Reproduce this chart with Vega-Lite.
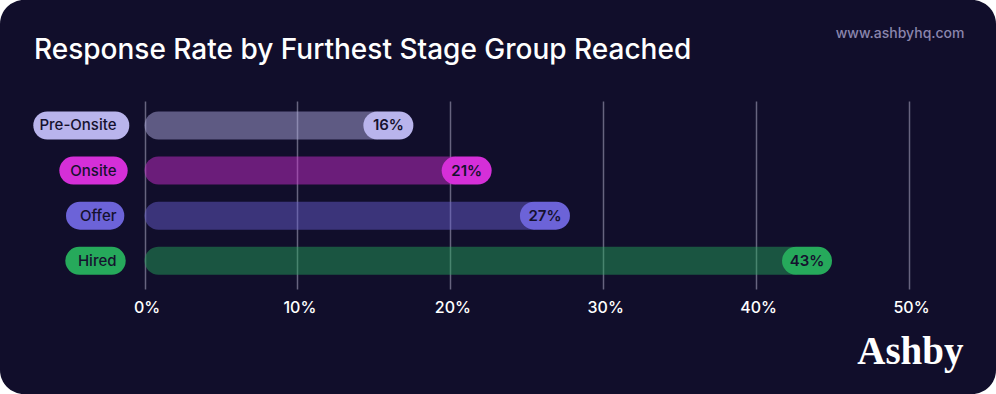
{
  "$schema": "https://vega.github.io/schema/vega-lite/v6.json",
  "width": 996,
  "height": 394,
  "autosize": {"type": "none"},
  "padding": 0,
  "background": "#ffffff",
  "title": {
    "text": "Response Rate by Furthest Stage Group Reached",
    "anchor": "start",
    "frame": "group",
    "offset": -87,
    "dx": 34,
    "baseline": "alphabetic",
    "font": "Inter",
    "fontSize": 28,
    "fontWeight": 500,
    "color": "#ffffff"
  },
  "config": {
    "view": {"fill": "#110e2b", "stroke": null, "cornerRadius": 24}
  },
  "data": {
    "values": [
      {"stage": "Pre-Onsite", "rate": 0.1595, "label": "16%"},
      {"stage": "Onsite", "rate": 0.2107, "label": "21%"},
      {"stage": "Offer", "rate": 0.2619, "label": "27%"},
      {"stage": "Hired", "rate": 0.4333, "label": "43%"}
    ]
  },
  "encoding": {
    "x": {
      "field": "rate",
      "type": "quantitative",
      "scale": {"domain": [-0.09451, 0.5569], "nice": false, "zero": false},
      "axis": {
        "values": [0, 0.1, 0.2, 0.3, 0.4, 0.5],
        "format": ".0%",
        "grid": true,
        "gridColor": "#67647f",
        "gridWidth": 1.5,
        "ticks": false,
        "domain": false,
        "offset": -100,
        "labelPadding": 18,
        "labelOffset": 2,
        "labelBaseline": "alphabetic",
        "labelFlush": false,
        "labelFont": "Inter",
        "labelFontSize": 16,
        "labelFontWeight": 500,
        "labelColor": "#ffffff",
        "title": "Ashby",
        "titleFont": "Liberation Serif",
        "titleFontSize": 39,
        "titleFontWeight": "bold",
        "titleColor": "#ffffff",
        "titleX": 963,
        "titleY": 69,
        "titleAlign": "right",
        "titleBaseline": "alphabetic"
      }
    },
    "y": {
      "field": "stage",
      "type": "nominal",
      "scale": {
        "domain": ["Pre-Onsite", "Onsite", "Offer", "Hired"],
        "range": [105, 293],
        "paddingInner": 0.3792,
        "paddingOuter": 0.2739,
        "align": 0.263
      },
      "axis": {
        "orient": "right",
        "title": "www.ashbyhq.com",
        "labels": false,
        "ticks": false,
        "domain": false,
        "grid": false,
        "titleAngle": 0,
        "titleX": -32,
        "titleY": 37.5,
        "titleAlign": "right",
        "titleBaseline": "alphabetic",
        "titleColor": "#8a85ad",
        "titleFont": "Inter",
        "titleFontSize": 14,
        "titleFontWeight": 500
      }
    },
    "color": {
      "field": "stage",
      "type": "nominal",
      "scale": {
        "domain": ["Pre-Onsite", "Onsite", "Offer", "Hired"],
        "range": ["#b9b4ec", "#d52fd8", "#6c63d8", "#26a95b"]
      },
      "legend": null
    }
  },
  "layer": [
    {
      "mark": {"type": "bar", "cornerRadius": 14, "opacity": 0.46},
      "encoding": {
        "x2": {"datum": 0}
      }
    },
    {
      "mark": {"type": "point", "filled": false, "opacity": 1, "strokeWidth": 28, "strokeCap": "round", "shape": "M-11,0L11,0", "size": 4}
    },
    {
      "mark": {"type": "text", "font": "Inter", "fontSize": 15, "fontWeight": 600, "align": "center", "baseline": "middle"},
      "encoding": {
        "text": {"field": "label"},
        "color": {"value": "#15112e"}
      }
    },
    {
      "mark": {"type": "point", "filled": false, "opacity": 1, "strokeWidth": 28, "strokeCap": "round", "size": 4},
      "encoding": {
        "x": {"datum": 0, "type": "quantitative"},
        "shape": {
          "field": "stage",
          "type": "nominal",
          "scale": {
            "domain": ["Pre-Onsite", "Onsite", "Offer", "Hired"],
            "range": ["M-97.2,0L-29.2,0", "M-71.2,0L-30.8,0", "M-64.5,0L-34.2,0", "M-65.2,0L-32.8,0"]
          },
          "legend": null
        }
      }
    },
    {
      "mark": {"type": "text", "font": "Inter", "fontSize": 15, "fontWeight": 500, "align": "right", "baseline": "middle", "dx": -28},
      "encoding": {
        "x": {"datum": 0, "type": "quantitative"},
        "text": {"field": "stage"},
        "color": {"value": "#15112e"}
      }
    }
  ]
}
